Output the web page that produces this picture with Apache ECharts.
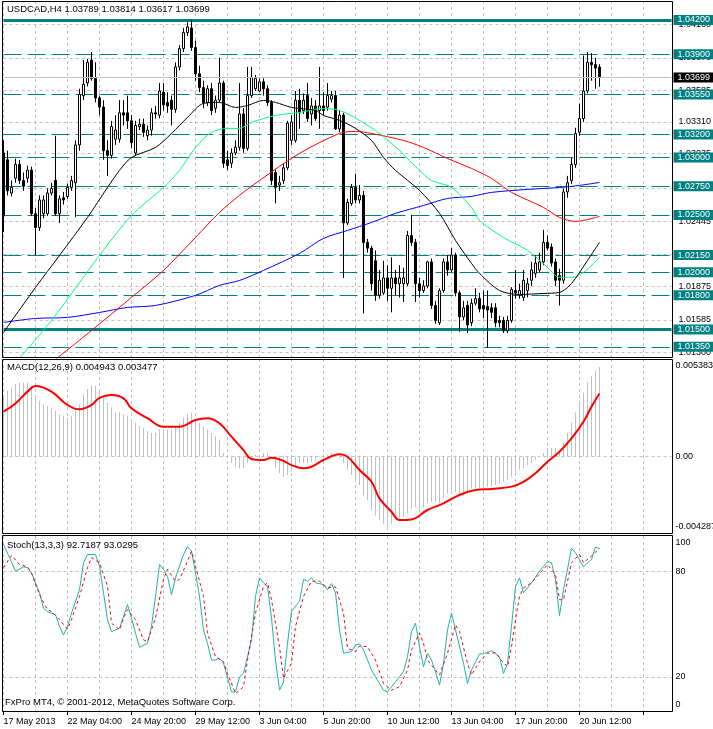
<!DOCTYPE html>
<html><head><meta charset="utf-8">
<script src="https://cdn.jsdelivr.net/npm/echarts@6/dist/echarts.min.js"></script>
<style>html,body{margin:0;padding:0;background:#fff}#c{width:713px;height:729px}</style>
</head><body><div id="c"></div>
<script>
// ---------- data ----------
const chartTitle = 'USDCAD,H4 1.03789 1.03814 1.03617 1.03699';
const macdTitle = 'MACD(12,26,9) 0.004943 0.003477';
const stochTitle = 'Stoch(13,3,3) 92.7187 93.0295';
const footer = 'FxPro MT4, \u00A9 2001-2012, MetaQuotes Software Corp.';

// [open, high, low, close]
const ohlc = [
[1.0304,1.0315,1.0235,1.0249],[1.0298,1.0306,1.0267,1.0271],[1.0269,1.0280,1.0266,1.0274],[1.0282,1.0299,1.0278,1.0294],
[1.0294,1.0298,1.0277,1.0280],[1.0280,1.0287,1.0271,1.0275],[1.0282,1.0293,1.0278,1.0289],[1.0289,1.0292,1.0249,1.0251],
[1.0251,1.0256,1.0215,1.0239],[1.0239,1.0267,1.0236,1.0263],[1.0251,1.0267,1.0247,1.0263],[1.0251,1.0273,1.0249,1.0269],
[1.0269,1.0278,1.0267,1.0273],[1.0280,1.0319,1.0249,1.0251],[1.0251,1.0267,1.0243,1.0264],[1.0265,1.0270,1.0259,1.0263],
[1.0266,1.0277,1.0264,1.0274],[1.0274,1.0284,1.0271,1.0280],[1.0278,1.0315,1.0248,1.0311],[1.0311,1.0360,1.0306,1.0355],
[1.0354,1.0385,1.0350,1.0364],[1.0365,1.0386,1.0362,1.0383],[1.0385,1.0392,1.0367,1.0369],[1.0369,1.0383,1.0348,1.0352],
[1.0352,1.0354,1.0337,1.0344],[1.0344,1.0350,1.0298,1.0306],[1.0306,1.0315,1.0284,1.0302],[1.0302,1.0332,1.0299,1.0327],
[1.0316,1.0337,1.0311,1.0324],[1.0316,1.0350,1.0313,1.0339],[1.0339,1.0350,1.0328,1.0337],[1.0339,1.0354,1.0325,1.0332],
[1.0332,1.0337,1.0308,1.0313],[1.0304,1.0332,1.0302,1.0328],[1.0327,1.0334,1.0324,1.0329],[1.0329,1.0334,1.0318,1.0322],
[1.0319,1.0328,1.0315,1.0324],[1.0324,1.0343,1.0319,1.0339],[1.0339,1.0345,1.0334,1.0338],[1.0337,1.0365,1.0334,1.0358],
[1.0357,1.0365,1.0341,1.0346],[1.0348,1.0357,1.0339,1.0345],[1.0350,1.0354,1.0328,1.0342],[1.0342,1.0383,1.0339,1.0379],
[1.0379,1.0398,1.0376,1.0395],[1.0395,1.0413,1.0392,1.0409],[1.0409,1.0418,1.0406,1.0414],[1.0413,1.0420,1.0393,1.0396],
[1.0396,1.0402,1.0367,1.0373],[1.0373,1.0380,1.0357,1.0361],[1.0361,1.0367,1.0343,1.0348],[1.0348,1.0363,1.0345,1.0360],
[1.0360,1.0365,1.0337,1.0341],[1.0343,1.0354,1.0339,1.0350],[1.0350,1.0387,1.0348,1.0365],[1.0365,1.0367,1.0291,1.0295],
[1.0298,1.0306,1.0289,1.0293],[1.0295,1.0308,1.0291,1.0304],[1.0304,1.0315,1.0302,1.0309],[1.0309,1.0365,1.0306,1.0338],
[1.0338,1.0343,1.0304,1.0308],[1.0308,1.0379,1.0306,1.0354],[1.0354,1.0379,1.0352,1.0370],[1.0360,1.0372,1.0358,1.0369],
[1.0358,1.0369,1.0357,1.0366],[1.0366,1.0369,1.0354,1.0360],[1.0360,1.0363,1.0345,1.0348],[1.0348,1.0350,1.0276,1.0280],
[1.0287,1.0290,1.0260,1.0274],[1.0276,1.0284,1.0271,1.0278],[1.0280,1.0295,1.0277,1.0291],[1.0291,1.0332,1.0289,1.0330],
[1.0315,1.0337,1.0311,1.0331],[1.0315,1.0358,1.0313,1.0350],[1.0350,1.0360,1.0325,1.0339],[1.0341,1.0356,1.0338,1.0350],
[1.0354,1.0365,1.0331,1.0334],[1.0338,1.0352,1.0328,1.0345],[1.0345,1.0350,1.0332,1.0334],[1.0341,1.0379,1.0325,1.0345],
[1.0345,1.0357,1.0337,1.0341],[1.0344,1.0365,1.0341,1.0354],[1.0351,1.0358,1.0348,1.0354],[1.0354,1.0358,1.0324,1.0325],
[1.0325,1.0341,1.0322,1.0337],[1.0337,1.0339,1.0195,1.0243],[1.0243,1.0264,1.0241,1.0261],[1.0260,1.0277,1.0258,1.0274],
[1.0274,1.0286,1.0260,1.0263],[1.0263,1.0276,1.0260,1.0267],[1.0267,1.0271,1.0164,1.0226],[1.0226,1.0229,1.0217,1.0221],
[1.0221,1.0223,1.0184,1.0190],[1.0210,1.0219,1.0175,1.0180],[1.0180,1.0202,1.0177,1.0193],[1.0182,1.0210,1.0180,1.0195],
[1.0195,1.0206,1.0175,1.0186],[1.0186,1.0213,1.0165,1.0195],[1.0195,1.0202,1.0180,1.0190],[1.0190,1.0206,1.0178,1.0195],
[1.0190,1.0204,1.0174,1.0195],[1.0190,1.0236,1.0188,1.0232],[1.0232,1.0250,1.0223,1.0226],[1.0226,1.0229,1.0174,1.0190],
[1.0190,1.0195,1.0178,1.0184],[1.0184,1.0193,1.0182,1.0188],[1.0188,1.0210,1.0186,1.0209],[1.0209,1.0212,1.0168,1.0171],
[1.0171,1.0175,1.0155,1.0158],[1.0156,1.0186,1.0154,1.0184],[1.0184,1.0212,1.0182,1.0209],[1.0209,1.0215,1.0197,1.0202],
[1.0202,1.0221,1.0200,1.0215],[1.0215,1.0217,1.0179,1.0182],[1.0182,1.0184,1.0148,1.0161],[1.0161,1.0175,1.0158,1.0169],
[1.0171,1.0175,1.0147,1.0154],[1.0156,1.0177,1.0153,1.0173],[1.0173,1.0186,1.0171,1.0177],[1.0177,1.0182,1.0165,1.0168],
[1.0171,1.0184,1.0160,1.0168],[1.0170,1.0184,1.0134,1.0167],[1.0169,1.0173,1.0160,1.0165],[1.0169,1.0173,1.0152,1.0156],
[1.0158,1.0162,1.0152,1.0156],[1.0158,1.0161,1.0147,1.0149],[1.0149,1.0162,1.0147,1.0158],[1.0158,1.0187,1.0156,1.0185],
[1.0184,1.0202,1.0177,1.0182],[1.0180,1.0190,1.0177,1.0184],[1.0178,1.0202,1.0175,1.0193],[1.0184,1.0195,1.0178,1.0190],
[1.0193,1.0209,1.0188,1.0202],[1.0199,1.0215,1.0195,1.0208],[1.0202,1.0217,1.0200,1.0209],[1.0209,1.0237,1.0206,1.0226],
[1.0226,1.0232,1.0219,1.0221],[1.0222,1.0225,1.0205,1.0208],[1.0209,1.0212,1.0188,1.0193],[1.0197,1.0203,1.0171,1.0193],
[1.0193,1.0273,1.0190,1.0270],[1.0270,1.0284,1.0265,1.0278],[1.0280,1.0300,1.0277,1.0294],[1.0294,1.0326,1.0291,1.0321],
[1.0322,1.0347,1.0319,1.0334],[1.0334,1.0389,1.0331,1.0358],[1.0358,1.0392,1.0356,1.0383],[1.0383,1.0391,1.0367,1.0381],
[1.0381,1.0387,1.0360,1.0378],[1.03789,1.03814,1.03617,1.03699]
];

// moving averages: [bar, price]
const maBlack = [[0,1.01475],[8,1.01867],[14,1.02146],[21,1.02478],[26,1.02739],[29,1.02888],[32,1.03001],[38,1.03088],[42,1.03210],[46,1.03350],[50,1.03472],[54,1.03481],[58,1.03437],[61,1.03454],[65,1.03498],[68,1.03481],[72,1.03437],[78,1.03411],[80,1.03367],[84,1.03324],[88,1.03254],[92,1.03149],[95,1.03001],[98,1.02888],[104,1.02713],[109,1.02513],[113,1.02277],[117,1.02077],[119,1.01990],[124,1.01841],[129,1.01806],[135,1.01815],[139,1.01824],[142,1.01902],[146,1.02103],[149,1.02260]];
const maGreen = [[4,1.0125],[12,1.01580],[24,1.02146],[32,1.02495],[40,1.02739],[44,1.02888],[48,1.03088],[52,1.03219],[56,1.03254],[59,1.03254],[62,1.03306],[68,1.03367],[74,1.03393],[80,1.03428],[84,1.03411],[89,1.03324],[94,1.03210],[99,1.03062],[104,1.02888],[107,1.02800],[112,1.02739],[117,1.02565],[119,1.02452],[125,1.02303],[131,1.02190],[136,1.02042],[139,1.01955],[142,1.01955],[145,1.01998],[149,1.02129]];
const maRed = [[13,1.0124],[22,1.01492],[32,1.01780],[40,1.02016],[48,1.02303],[54,1.02521],[59,1.02670],[64,1.02800],[74,1.03036],[84,1.03210],[88,1.03228],[92,1.03210],[100,1.03149],[105,1.03088],[111,1.02992],[117,1.02905],[122,1.02818],[127,1.02696],[135,1.02565],[139,1.02478],[143,1.02443],[149,1.02486]];
const maBlue = [[0,1.01562],[8,1.01597],[16,1.01606],[24,1.01649],[31,1.01693],[38,1.01710],[48,1.01798],[54,1.01885],[59,1.01928],[65,1.02016],[74,1.02164],[80,1.02295],[86,1.02364],[92,1.02434],[98,1.02513],[105,1.02582],[111,1.02643],[117,1.02661],[122,1.02696],[131,1.02722],[139,1.02739],[144,1.02757],[149,1.02783]];

const macdHist = [
0.00335,0.00363,0.00381,0.0040,0.00409,0.00409,0.00409,0.00391,0.00335,0.00307,
0.00288,0.00279,0.0027,0.00251,0.00233,0.00223,0.00214,0.00223,0.0026,0.00288,
0.00344,0.00372,0.00391,0.00391,0.00372,0.00326,0.00298,0.0027,0.00242,0.00242,
0.00233,0.00223,0.00195,0.00186,0.00167,0.00158,0.0014,0.0013,0.0013,0.00149,
0.00149,0.00149,0.00149,0.00158,0.00186,0.00214,0.00233,0.00242,0.00205,0.00186,
0.00167,0.00149,0.0013,0.00112,0.00093,0.00019,-0.00009,-0.00037,-0.00056,-0.00065,
-0.00065,-0.00037,-0.00009,0.00009,0.00009,0.00019,0.00019,-0.00005,-0.00065,-0.00093,
-0.00112,-0.00102,-0.00084,-0.00056,-0.00037,-0.00037,-0.00037,-0.00028,-0.00019,0.00002,
0.00002,0.00009,0.00019,0.00002,-0.00009,-0.00037,-0.00074,-0.00102,-0.0013,-0.00158,
-0.00214,-0.00242,-0.00298,-0.00326,-0.00353,-0.00372,-0.00391,-0.00372,-0.00353,-0.00344,
-0.00335,-0.00316,-0.00288,-0.00279,-0.00288,-0.00279,-0.0026,-0.00251,-0.00251,-0.0026,
-0.00233,-0.00205,-0.00186,-0.00195,-0.00214,-0.00214,-0.00195,-0.00177,-0.00177,-0.00177,
-0.00167,-0.00167,-0.00167,-0.00158,-0.00149,-0.0014,-0.0013,-0.00112,-0.00093,-0.00074,
-0.00065,-0.00047,-0.00037,-0.00019,0.00002,0.00019,0.00047,0.00047,0.00047,0.00028,
0.00074,0.0013,0.00186,0.00242,0.00298,0.00353,0.00409,0.00446,0.00474,0.004943
];
const macdSignal = [[0,0.00247],[3,0.00293],[6,0.00358],[8,0.00389],[12,0.00358],[16,0.00284],[19,0.0026],[22,0.00284],[24,0.00324],[27,0.00339],[30,0.00321],[32,0.00266],[36,0.00211],[40,0.00164],[44,0.00164],[48,0.00201],[51,0.00211],[54,0.00183],[57,0.00109],[60,0.00035],[62,-0.00014],[65,-0.0002],[67,-0.00007],[70,-0.00025],[72,-0.00048],[75,-0.00066],[77,-0.00057],[80,-0.0002],[84,0.00012],[86,-0.00002],[89,-0.00075],[92,-0.0014],[94,-0.00232],[97,-0.00306],[99,-0.00351],[102,-0.00348],[106,-0.00296],[110,-0.00259],[114,-0.00213],[118,-0.00186],[122,-0.0018],[127,-0.00167],[130,-0.0014],[133,-0.00093],[136,-0.00029],[139,0.00026],[142,0.001],[145,0.00192],[147,0.00275],[149,0.003477]];

const stochK = [[0,95.3],[3,80],[5,82.5],[6,82],[7,79],[9,67.7],[10,59],[11,57],[13,55.3],[14,48.6],[15,43.8],[16,48.6],[17,56.2],[19,69.5],[20,84.8],[21,89.5],[23,89.5],[24,82.9],[25,67.7],[26,52.4],[27,45.7],[29,47.6],[30,54.3],[31,61],[32,53.4],[33,44.8],[34,36.8],[36,39],[37,48.6],[38,65.7],[39,83.8],[40,81],[41,77],[42,66.7],[43,76.2],[44,82.9],[45,89.5],[46,94],[47,91.4],[48,79],[49,65.7],[50,46.7],[51,39],[52,29.5],[53,29.5],[54,30.5],[55,27.7],[57,11.4],[58,11.4],[59,20],[60,21.9],[62,41],[63,65.7],[64,76.2],[65,73.4],[66,71.4],[67,53.4],[68,29.5],[69,12.4],[70,17.1],[71,39],[72,57.1],[74,62.9],[75,75.3],[76,74.3],[77,76.2],[78,73.4],[80,72.4],[81,69.5],[82,73],[83,67.7],[84,46.7],[85,33.4],[87,34.3],[88,38.1],[89,38.7],[90,35.3],[92,23.8],[95,12.4],[96,11.4],[97,14.3],[99,20],[100,22.9],[101,31.4],[102,45.7],[103,50.5],[104,37.1],[105,25.7],[106,33.4],[107,29.5],[108,22.9],[109,15.3],[110,27.7],[111,46.7],[112,56.2],[113,46.7],[115,27.7],[116,16.2],[117,23.8],[119,33],[120,33],[122,34.9],[124,31.4],[125,21.9],[126,27.7],[127,48.6],[128,71.4],[129,76.2],[130,67.7],[132,73.4],[134,80],[136,85.4],[137,84.8],[138,75.3],[139,54.7],[140,69.5],[142,93],[143,90.5],[145,82.5],[147,86.7],[148,93.7],[149,92.7187]];
const stochD = [[0,82],[2,89],[4,83.8],[6,82.5],[7,79],[9,66.7],[11,58.1],[12,57.1],[14,52.4],[16,47.1],[17,52.4],[19,65.7],[21,82],[22,87.7],[24,84.8],[26,71.4],[27,50.5],[29,46.7],[30,53.4],[31,58.1],[33,52.4],[35,41],[36,40],[38,53.4],[40,75.3],[41,81],[43,74.3],[44,75.3],[46,85.7],[47,91.4],[48,82.9],[50,65.7],[51,44.8],[53,31.4],[55,28.6],[56,21.9],[58,10.5],[60,14.3],[61,29.5],[63,56.2],[65,71.4],[66,73.4],[67,63.8],[69,37.1],[70,19.1],[72,27.7],[73,48.6],[75,65.7],[77,74.3],[79,74.3],[81,70.5],[83,71.1],[85,56.2],[86,36.2],[88,34.3],[89,37.5],[91,37.1],[93,29.5],[95,16.2],[97,12.4],[99,14.3],[101,23.8],[102,35.3],[104,44.8],[105,39],[106,29.5],[108,23.8],[109,21],[111,33.4],[113,49.5],[114,45.7],[116,27.7],[117,21],[119,28.6],[121,33.4],[123,33.7],[124,30.5],[126,25.7],[127,37.1],[128,52.4],[129,65.7],[130,70.5],[132,73.4],[135,81],[136,83.8],[138,78.1],[139,63.8],[140,63.8],[142,84.8],[144,89.5],[145,84.8],[147,88.6],[149,93.0295]];

const dateLabels = ['17 May 2013','22 May 04:00','24 May 20:00','29 May 12:00','3 Jun 04:00','5 Jun 20:00','10 Jun 12:00','13 Jun 04:00','17 Jun 20:00','20 Jun 12:00'];
const priceGridLevels = [1.0416,1.0387,1.03585,1.0331,1.03035,1.0273,1.02445,1.0216,1.01875,1.01585,1.013];
const solidLevels = [1.042,1.015];
const dashedLevels = [1.039,1.0355,1.032,1.03,1.0275,1.025,1.0215,1.02,1.018,1.0135];
const lastPrice = 1.03699;
const priceRange = [1.01252, 1.04365];
const macdRange = [-0.004287, 0.005383];
const stochLevels = [20, 80];
const slotCount = 168;

// ---------- chart ----------
const FONT = '"Liberation Sans", Arial, sans-serif';
const chart = echarts.init(document.getElementById('c'), null, {renderer:'canvas'});
const cats = Array.from({length: slotCount}, (_, i) => String(i));
const GRAY = '#C0C0C0', TEAL = '#008080';

function xAxisFor(g, withLabels) {
  return {
    type:'category', gridIndex:g, data:cats, boundaryGap:false,
    axisLine:{show:false},
    axisTick: withLabels ? {show:true, interval:15, length:3, lineStyle:{color:'#000'}} : {show:false},
    axisLabel: withLabels ? {show:true, interval:15, align:'left', margin:5, fontSize:9, fontFamily:FONT, color:'#000',
      formatter:(v) => { const i = +v; return (i % 16 === 0 && dateLabels[i/16]) ? dateLabels[i/16] : ''; }} : {show:false},
    splitLine:{show:true, interval:7, lineStyle:{color:GRAY, type:[3,3], width:1}}
  };
}
const edgeRich = {
  t:{padding:[14,0,0,0], fontSize:9, fontFamily:FONT, color:'#000'},
  b:{padding:[0,0,14,0], fontSize:9, fontFamily:FONT, color:'#000'},
  m:{fontSize:9, fontFamily:FONT, color:'#000'}
};
const fmt5 = (p) => Number(p.value).toFixed(5);
const gridBase = {left:3.5, width:668, containLabel:false, outerBoundsMode:'none'};

const option = {
  animation:false,
  backgroundColor:'#ffffff',
  title:[
    {text:chartTitle, left:7, top:4, padding:0, textStyle:{fontSize:9.5, fontWeight:'normal', fontFamily:FONT, color:'#000'}},
    {text:macdTitle, left:7, top:362, padding:0, textStyle:{fontSize:9.5, fontWeight:'normal', fontFamily:FONT, color:'#000'}},
    {text:stochTitle, left:7, top:540, padding:0, textStyle:{fontSize:9.5, fontWeight:'normal', fontFamily:FONT, color:'#000'}},
    {text:footer, left:5, top:697, padding:0, textStyle:{fontSize:9.5, fontWeight:'normal', fontFamily:FONT, color:'#000'}}
  ],
  grid:[
    Object.assign({top:1, height:357}, gridBase),
    Object.assign({top:359, height:175}, gridBase),
    Object.assign({top:536, height:176}, gridBase)
  ],
  xAxis:[xAxisFor(0,false), xAxisFor(1,false), xAxisFor(2,true)],
  yAxis:[
    {type:'value', gridIndex:0, min:priceRange[0], max:priceRange[1], position:'right', show:false},
    {type:'value', gridIndex:1, min:macdRange[0], max:macdRange[1], position:'right',
      axisLine:{show:false}, axisTick:{show:false}, splitLine:{show:false},
      axisLabel:{show:true, margin:4, customValues:[macdRange[0], 0, macdRange[1]], fontSize:9, fontFamily:FONT, color:'#000',
        formatter:(v) => v === 0 ? '{m|0.00}' : (v > 0 ? '{t|' + v.toFixed(6) + '}' : '{b|' + v.toFixed(6) + '}'), rich:edgeRich}},
    {type:'value', gridIndex:2, min:0, max:100, position:'right',
      axisLine:{show:false}, axisTick:{show:false}, splitLine:{show:false},
      axisLabel:{show:true, margin:4, customValues:[0,20,80,100], fontSize:9, fontFamily:FONT, color:'#000',
        formatter:(v) => v === 100 ? '{t|100}' : (v === 0 ? '{b|0}' : '{m|' + v + '}'), rich:edgeRich}}
  ],
  graphic:[
    {type:'rect', silent:true, z:100, shape:{x:2.5, y:1.5, width:670, height:356}, style:{fill:'none', stroke:'#000', lineWidth:1}},
    {type:'rect', silent:true, z:100, shape:{x:2.5, y:359.5, width:670, height:174}, style:{fill:'none', stroke:'#000', lineWidth:1}},
    {type:'rect', silent:true, z:100, shape:{x:2.5, y:535.5, width:670, height:176}, style:{fill:'none', stroke:'#000', lineWidth:1}}
  ],
  series:[
    {
      type:'candlestick', name:'USDCAD', xAxisIndex:0, yAxisIndex:0, z:3, barWidth:2,
      data: ohlc.map(d => [d[0], d[3], d[2], d[1]]),
      itemStyle:{color:'#ffffff', color0:'#000000', borderColor:'#000000', borderColor0:'#000000', borderWidth:1},
      markLine:{silent:true, symbol:['none','none'], z:8, precision:5, animation:false,
        lineStyle:{color:GRAY, type:'solid', width:1},
        label:{show:true, position:'end', distance:2, color:'#fff', backgroundColor:'#000', padding:[1,4,0,4], lineHeight:9,
          fontSize:9, fontFamily:FONT, formatter:fmt5},
        data:[{yAxis:lastPrice}]}
    },
    {
      type:'line', name:'MA blue', xAxisIndex:0, yAxisIndex:0, z:4, data:maBlue, showSymbol:false, symbol:'none', smooth:0.3,
      lineStyle:{color:'#0000FF', width:1},
      markLine:{silent:true, symbol:['none','none'], z:1, precision:5, animation:false,
        lineStyle:{color:GRAY, type:[3,3], width:1},
        label:{show:true, position:'end', distance:7, color:'#000', fontSize:9, fontFamily:FONT, formatter:fmt5},
        data: priceGridLevels.map(v => ({yAxis:v}))}
    },
    {
      type:'line', name:'MA red', xAxisIndex:0, yAxisIndex:0, z:4, data:maRed, showSymbol:false, symbol:'none', smooth:0.3,
      lineStyle:{color:'#FF0000', width:1},
      markLine:{silent:true, symbol:['none','none'], z:2, precision:5, animation:false,
        lineStyle:{color:TEAL, width:1},
        label:{show:true, position:'end', distance:2, color:'#fff', backgroundColor:TEAL, padding:[1,4,0,4], lineHeight:9,
          fontSize:9, fontFamily:FONT, formatter:fmt5},
        data: solidLevels.map(v => ({yAxis:v, lineStyle:{color:TEAL, type:'solid', width:3}}))
          .concat(dashedLevels.map(v => ({yAxis:v, lineStyle:{color:TEAL, type:[18,6], width:1}})))}
    },
    {type:'line', name:'MA green', xAxisIndex:0, yAxisIndex:0, z:4, data:maGreen, showSymbol:false, symbol:'none', smooth:0.3,
      lineStyle:{color:'#00FF7F', width:1}},
    {type:'line', name:'MA black', xAxisIndex:0, yAxisIndex:0, z:4, data:maBlack, showSymbol:false, symbol:'none', smooth:0.3,
      lineStyle:{color:'#000000', width:1}},
    {
      type:'bar', name:'MACD', xAxisIndex:1, yAxisIndex:1, z:2, data:macdHist, barWidth:1,
      itemStyle:{color:GRAY},
      markLine:{silent:true, symbol:['none','none'], z:1, precision:6, animation:false, label:{show:false},
        lineStyle:{color:GRAY, type:[3,3], width:1}, data:[{yAxis:0}]}
    },
    {type:'line', name:'Signal', xAxisIndex:1, yAxisIndex:1, z:4, data:macdSignal, showSymbol:false, symbol:'none', smooth:0.4,
      lineStyle:{color:'#FF0000', width:2}},
    {
      type:'line', name:'%K', xAxisIndex:2, yAxisIndex:2, z:4, data:stochK, showSymbol:false, symbol:'none',
      lineStyle:{color:'#20B2AA', width:1},
      markLine:{silent:true, symbol:['none','none'], z:1, animation:false, label:{show:false},
        lineStyle:{color:GRAY, type:[3,3], width:1}, data: stochLevels.map(v => ({yAxis:v}))}
    },
    {type:'line', name:'%D', xAxisIndex:2, yAxisIndex:2, z:5, data:stochD, showSymbol:false, symbol:'none',
      lineStyle:{color:'#FF0000', width:1, type:[3,3]}}
  ]
};
chart.setOption(option);
</script>
</body></html>
